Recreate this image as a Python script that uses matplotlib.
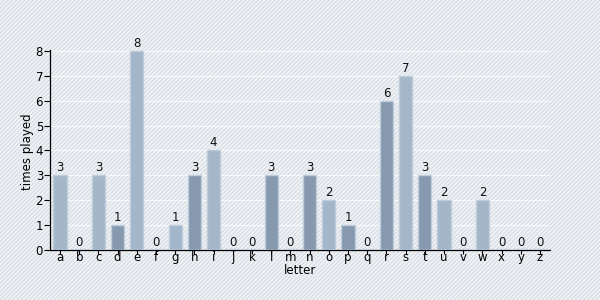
import matplotlib
matplotlib.use("Agg")
import matplotlib.pyplot as plt
from matplotlib.patches import Rectangle

letters = list("abcdefghijklmnopqrstuvwxyz")
times_played = [3, 0, 3, 1, 8, 0, 1, 3, 4, 0, 0, 3, 0, 3, 2, 1, 0, 6, 7, 3, 2, 0, 2, 0, 0, 0]

LIGHT = "#a3b6ca"
DARK = "#8699af"
EDGE = "#bfcddb"

plt.rcParams["font.family"] = "DejaVu Sans"
plt.rcParams["font.size"] = 8
plt.rcParams["hatch.linewidth"] = 0.9

fig = plt.figure(figsize=(6, 3), dpi=100)
fig.patch.set_facecolor("#eef1f4")
# striped background over whole figure
bg = Rectangle((0, 0), 1, 1, transform=fig.transFigure, facecolor="#f1f3f6",
               edgecolor="#d7dde4", hatch="////////", linewidth=0, zorder=-10)
fig.patches.append(bg)

ax = fig.add_axes([50 / 600, 50 / 300, 500 / 600, 200 / 300])
ax.patch.set_alpha(0)

x = list(range(len(letters)))
colors = [LIGHT if i % 2 == 0 else DARK for i in x]
heights = [v if v > 0 else 0.03 for v in times_played]
ax.bar(x, heights, width=0.68, color=colors, edgecolor=EDGE,
       linewidth=1.0, zorder=3)

for xi, v in zip(x, times_played):
    ax.text(xi, v + 0.05, str(v), ha="center", va="bottom", fontsize=8.5,
            color="#111111", zorder=4)

ax.set_xlim(-0.52, 25.52)
ax.set_ylim(0, 8.04)
ax.set_yticks(range(0, 9))
ax.set_xticks(x)
ax.set_xticklabels(letters)
ax.tick_params(axis="x", length=3, pad=-2, labelsize=8.5, width=0.8)
ax.tick_params(axis="y", length=4, pad=1, labelsize=8.5, width=0.8)

ax.grid(axis="y", color="white", linewidth=0.8, alpha=0.7, zorder=1)
for s in ("top", "right"):
    ax.spines[s].set_visible(False)
ax.spines["left"].set_linewidth(0.9)
ax.spines["bottom"].set_linewidth(0.9)

ax.set_xlabel("letter", fontsize=8.5)
ax.set_ylabel("times played", fontsize=8.5)
ax.xaxis.set_label_coords(0.5, -0.072)
ax.yaxis.set_label_coords(-0.032, 0.49)

fig.savefig("out.png", dpi=100, facecolor=fig.get_facecolor())
